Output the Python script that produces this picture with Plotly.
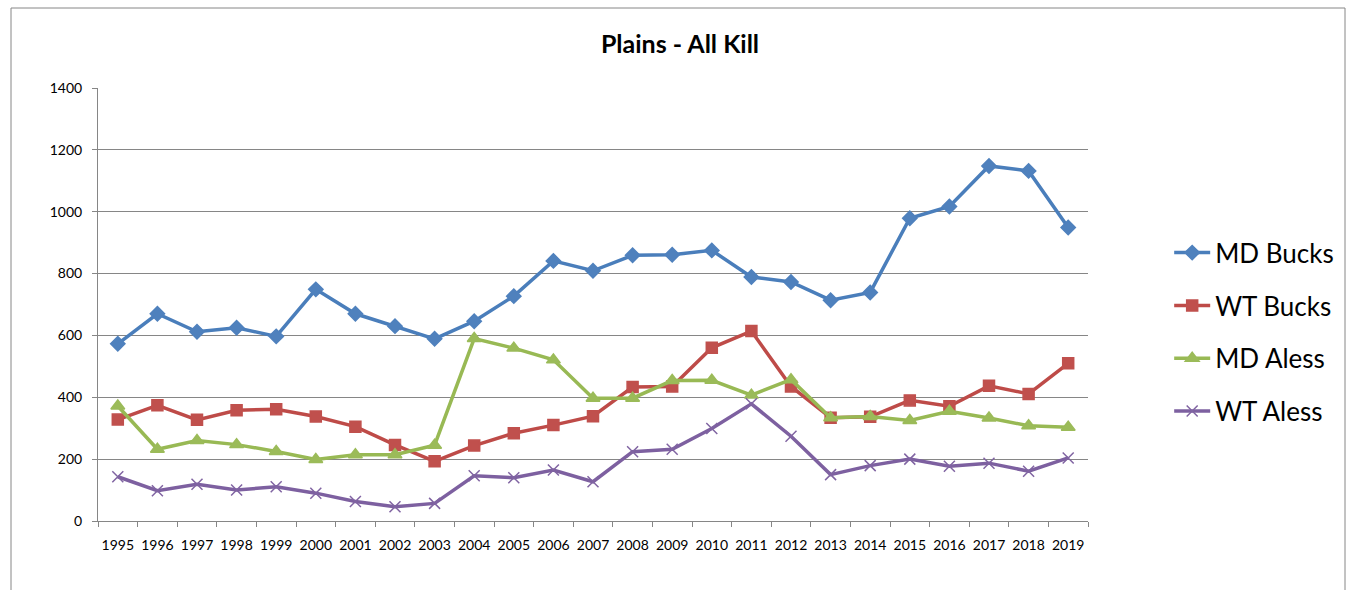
import plotly.graph_objects as go

years = [str(y) for y in range(1995, 2020)]

md_bucks = [573, 670, 612, 625, 597, 749, 670, 630, 589, 646, 727, 841,
            809, 859, 861, 875, 789, 773, 714, 739, 979, 1017, 1148, 1132, 949]
wt_bucks = [328, 374, 327, 358, 361, 338, 305, 246, 193, 244, 284, 310,
            339, 433, 435, 560, 614, 435, 334, 337, 390, 371, 437, 411, 510]
md_aless = [372, 232, 260, 247, 225, 199, 214, 214, 245, 590, 559, 521,
            397, 397, 454, 455, 407, 457, 334, 338, 325, 355, 333, 308, 303]
wt_aless = [143, 98, 119, 100, 111, 90, 63, 46, 57, 146, 140, 165,
            127, 224, 232, 299, 379, 274, 150, 179, 200, 177, 187, 161, 204]

SERIES = [
    ("MD Bucks", md_bucks, "#4A7EBB", "#4F81BD", "diamond", 11),
    ("WT Bucks", wt_bucks, "#BE4B48", "#C0504D", "square", 11),
    ("MD Aless", md_aless, "#98B954", "#9BBB59", "triangle-up", 12),
    ("WT Aless", wt_aless, "#7D60A0", "#8064A2", "x-thin", 11),
]

FONT = "Lato, 'Open Sans', sans-serif"

fig = go.Figure()
for name, vals, line_col, mark_col, symbol, size in SERIES:
    fig.add_trace(go.Scatter(
        x=years,
        y=vals,
        name=name,
        legendgroup=name,
        mode="lines+markers",
        line=dict(color=line_col, width=3.5),
        marker=dict(symbol=symbol, size=size, color=mark_col,
                    line=dict(color=mark_col, width=1.5)),
    ))

fig.update_layout(
    width=1353,
    height=590,
    font=dict(family=FONT, size=12, color="#000000"),
    plot_bgcolor="white",
    paper_bgcolor="white",
    margin=dict(l=98, r=265, t=88, b=69),
    title=dict(text="<b>Plains - All Kill</b>", x=680 / 1353, xanchor="center",
               y=1 - 44 / 590, yanchor="middle",
               font=dict(family=FONT, size=25, color="#000000")),
    legend=dict(x=1.082, xanchor="left", y=0.436, yanchor="middle",
                font=dict(family=FONT, size=26, color="#000000"),
                tracegroupgap=16, itemwidth=36, bgcolor="rgba(0,0,0,0)"),
    showlegend=True,
    shapes=[dict(type="rect", xref="paper", yref="paper",
                 x0=(11 - 98) / 990, x1=(1345 - 98) / 990,
                 y0=-0.3, y1=(521 - 8) / 433,
                 line=dict(color="#868686", width=1), layer="below")],
)
fig.update_yaxes(range=[0, 1400], dtick=200, showgrid=True, gridcolor="#868686",
                 gridwidth=1, showline=True, linecolor="#868686", ticks="outside",
                 ticklen=5, tickcolor="#868686", zeroline=False,
                 ticklabelstandoff=7, tickfont=dict(size=14))
fig.update_xaxes(type="category", range=[-0.5, 24.5], tickson="boundaries",
                 ticks="outside", ticklen=5, tickangle=0, ticklabelstandoff=11,
                 tickcolor="#868686", showline=True, linecolor="#868686",
                 showgrid=False, tickfont=dict(size=14))

fig.write_html("out.html", config={"displayModeBar": False},
               post_script="document.body.style.margin='0';")
